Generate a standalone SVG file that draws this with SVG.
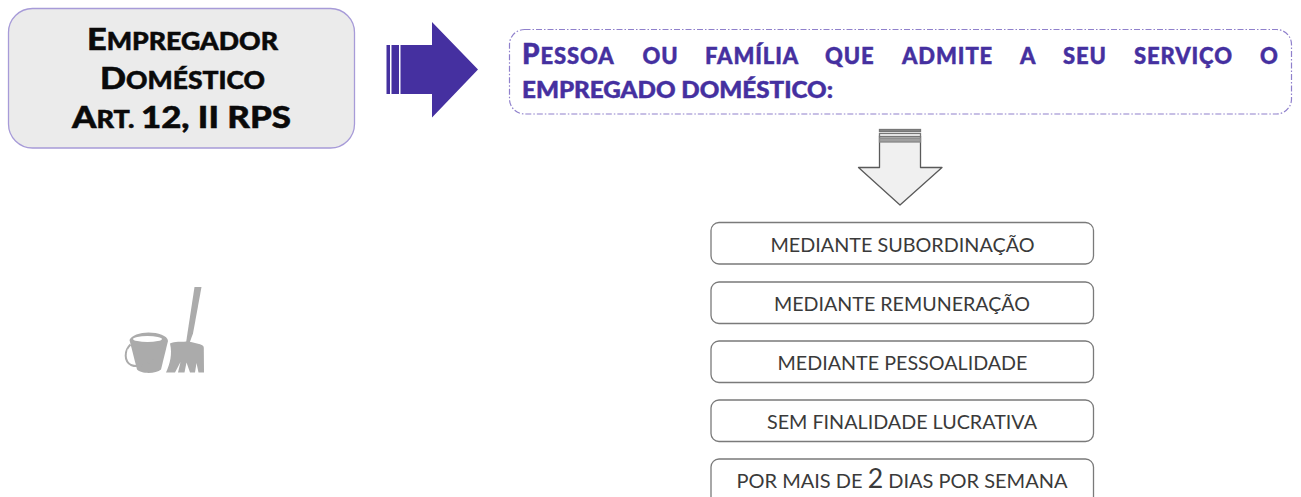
<svg xmlns="http://www.w3.org/2000/svg" width="1301" height="497" viewBox="0 0 1301 497">
<style>
text{font-family:Lato,"Open Sans","Liberation Sans",sans-serif}
.h{font-weight:900;font-size:24px;fill:#0a0a0a;stroke:#0a0a0a;stroke-width:.5px;text-anchor:middle}
.h .c{font-size:31px}
.v{font-weight:900;font-size:22px;fill:#4530a0;stroke:#4530a0;stroke-width:.45px;letter-spacing:.9px}
.v .c{font-size:28px}
.w{letter-spacing:0}
.r{fill:#fff;stroke:#7a7a7a;stroke-width:1.3}
.t{font-size:19.5px;fill:#3a3a3a;text-anchor:middle}
.i{fill:#ababab}
</style>
<rect width="1301" height="497" fill="#fff"/>
<g id="empregador">
<rect x="8.5" y="8.5" width="346" height="139.500" rx="24" fill="#ebebeb" stroke="#a79bd8" stroke-width="1.300"/>
<text class="h" x="182.500" y="49.500" textLength="191" lengthAdjust="spacingAndGlyphs"><tspan class="c">E</tspan>MPREGADOR</text>
<text class="h" x="182.500" y="88.500" textLength="165" lengthAdjust="spacingAndGlyphs"><tspan class="c">D</tspan>OMÉSTICO</text>
<text class="h" x="181.500" y="128" textLength="219" lengthAdjust="spacingAndGlyphs"><tspan class="c">A</tspan>RT. <tspan class="c">12, II RPS</tspan></text>
</g>
<g id="connectors">
<g id="seta-roxa" fill="#4530a0">
<rect x="386.500" y="45" width="3.500" height="49"/>
<rect x="391.500" y="45" width="7.500" height="49"/>
<path d="M400.500 45H432V22L478 69.500 432 117.500V94H400.500Z"/>
</g>
<g id="seta-cinza" fill="#f0f0f0" stroke="#5a5a5a" stroke-width="1.300">
<path d="M879.500 136H920.500V167.500H942L900 205 858.500 167.500H879.500Z" stroke-linejoin="round"/>
<rect x="879.500" y="129.500" width="41" height="2" fill="#8a8a8a" stroke="#777"/>
<rect x="879.500" y="133.500" width="41" height="3" fill="#f6f6f6" stroke="#777"/>
<rect x="879.500" y="138" width="41" height="4" fill="#a0a0a0" stroke="#888"/>
</g>
</g>
<g id="definicao">
<rect x="509.500" y="29.500" width="782" height="84.500" rx="15" fill="#fff" stroke="#8f80cc" stroke-width="1.200" stroke-dasharray="6 2 1.500 2"/>
<text class="v" y="64"><tspan class="c" x="522">P</tspan>ESSOA<tspan x="642.500">OU</tspan><tspan x="705">FAMÍLIA</tspan><tspan x="825">QUE</tspan><tspan x="902">ADMITE</tspan><tspan x="1020">A</tspan><tspan x="1063">SEU</tspan><tspan x="1134">SERVIÇO</tspan><tspan x="1260">O</tspan></text>
<text class="v w" x="522" y="98" textLength="311" lengthAdjust="spacingAndGlyphs">EMPREGADO DOMÉSTICO:</text>
</g>
<g id="icone">
<path class="i" d="M194.500 287H201.500L193 333.500 189.500 343H186L187.500 333Z"/>
<path class="i" d="M170 343.500C175 341 181 342 186 341.500L191 342 199 344C202 345 204 345.500 203.800 348L204 372.500H198.500L196.500 363 195 372.500H190L186.500 362.500 184.500 372.500H178L180.500 362 175 372.500H166C170 364 172.500 354 170 343.500Z"/>
<path class="i" d="M129.500 340C131 335.500 140 332.500 148.500 332.500 158 332.500 167.500 335.500 168 341L161 369.500C156 374 141 374 137 369.500Z"/>
<ellipse cx="147.500" cy="339" rx="14.500" ry="3" fill="#fff"/>
<path d="M130.500 344.500C124 351 124 361 131 365 141 369 155 361 162 352 165.500 347 160 344 156.500 348" fill="none" stroke="#ababab" stroke-width="2"/>
<path d="M128 349C126.500 355 128 361 133 364" fill="none" stroke="#fff" stroke-width=".6"/>
</g>
<g id="item-1"><rect class="r" x="711" y="222.500" width="382.500" height="41.500" rx="8"/><text class="t" x="902.500" y="251.500" textLength="264" lengthAdjust="spacingAndGlyphs">MEDIANTE SUBORDINAÇÃO</text></g>
<g id="item-2"><rect class="r" x="711" y="282" width="382.500" height="41.500" rx="8"/><text class="t" x="902" y="311" textLength="256" lengthAdjust="spacingAndGlyphs">MEDIANTE REMUNERAÇÃO</text></g>
<g id="item-3"><rect class="r" x="711" y="341" width="382.500" height="41.500" rx="8"/><text class="t" x="902.500" y="370" textLength="250" lengthAdjust="spacingAndGlyphs">MEDIANTE PESSOALIDADE</text></g>
<g id="item-4"><rect class="r" x="711" y="400" width="382.500" height="41.500" rx="8"/><text class="t" x="902" y="429" textLength="270" lengthAdjust="spacingAndGlyphs">SEM FINALIDADE LUCRATIVA</text></g>
<g id="item-5"><rect class="r" x="711" y="459" width="382.500" height="50" rx="8"/><text class="t" x="902" y="488" textLength="331" lengthAdjust="spacingAndGlyphs">POR MAIS DE <tspan font-size="26">2</tspan> DIAS POR SEMANA</text></g>
</svg>
